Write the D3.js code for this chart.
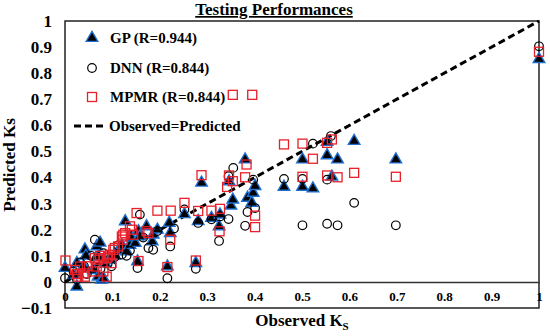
<!DOCTYPE html>
<html>
<head>
<meta charset="utf-8">
<script src="https://cdn.jsdelivr.net/npm/d3@7"></script>
<style>
  body { margin: 0; background: #fff; }
  text { font-family: "Liberation Serif", "Times New Roman", serif; font-weight: bold; }
</style>
</head>
<body>
<div class="chart"></div>
<script>
// [observed, predicted]
var gpData = [
  [0.000,0.053],[0.025,-0.018],[0.018,0.027],[0.025,0.072],[0.039,0.059],[0.042,0.124],
  [0.044,0.100],[0.060,0.045],[0.067,0.136],[0.070,0.097],[0.074,0.150],[0.070,0.020],
  [0.077,0.008],[0.081,0.014],[0.085,0.070],[0.095,0.085],[0.105,0.100],[0.112,0.120],
  [0.120,0.140],[0.127,0.232],[0.130,0.117],[0.137,0.142],[0.140,0.170],[0.148,0.149],
  [0.153,0.078],[0.155,0.194],[0.158,0.174],[0.172,0.213],[0.184,0.155],[0.186,0.181],
  [0.195,0.200],[0.216,0.059],[0.220,0.226],[0.222,0.187],[0.252,0.259],[0.276,0.072],
  [0.281,0.233],[0.288,0.380],[0.309,0.245],[0.325,0.213],[0.327,0.258],[0.346,0.385],
  [0.350,0.292],[0.354,0.315],[0.380,0.469],[0.385,0.322],[0.394,0.303],[0.397,0.341],
  [0.401,0.367],[0.462,0.364],[0.501,0.469],[0.501,0.364],[0.523,0.358],[0.553,0.485],
  [0.553,0.536],[0.563,0.403],[0.575,0.469],[0.610,0.540],[0.698,0.469],[1.000,0.854]
];

var dnnData = [
  [0.000,0.014],[0.018,0.040],[0.025,0.010],[0.032,0.075],[0.040,0.060],[0.046,0.030],
  [0.055,0.100],[0.063,0.162],[0.067,0.090],[0.075,0.050],[0.081,0.110],[0.090,0.070],
  [0.098,0.060],[0.105,0.095],[0.112,0.140],[0.120,0.105],[0.130,0.100],[0.137,0.120],
  [0.145,0.180],[0.153,0.053],[0.158,0.258],[0.165,0.170],[0.176,0.130],[0.186,0.123],
  [0.195,0.195],[0.216,0.014],[0.222,0.136],[0.230,0.205],[0.252,0.278],[0.276,0.050],
  [0.281,0.226],[0.309,0.240],[0.325,0.157],[0.327,0.251],[0.345,0.241],[0.345,0.405],
  [0.355,0.437],[0.380,0.215],[0.385,0.268],[0.397,0.392],[0.401,0.283],[0.462,0.395],
  [0.501,0.395],[0.501,0.217],[0.523,0.530],[0.553,0.392],[0.553,0.223],[0.561,0.559],
  [0.575,0.217],[0.610,0.303],[0.698,0.217],[1.000,0.903]
];

var mpmrData = [
  [0.001,0.082],[0.021,0.046],[0.025,0.030],[0.028,0.020],[0.032,0.059],[0.039,0.033],
  [0.042,0.020],[0.046,0.060],[0.060,0.040],[0.063,0.091],[0.067,0.059],[0.070,0.085],
  [0.074,0.100],[0.081,0.040],[0.081,0.091],[0.088,0.020],[0.088,0.091],[0.091,0.097],
  [0.095,0.104],[0.098,0.072],[0.102,0.123],[0.105,0.130],[0.112,0.136],[0.120,0.174],
  [0.122,0.162],[0.123,0.181],[0.127,0.187],[0.137,0.213],[0.141,0.200],[0.144,0.181],
  [0.151,0.264],[0.155,0.080],[0.172,0.194],[0.176,0.187],[0.195,0.273],[0.222,0.162],
  [0.223,0.273],[0.216,0.057],[0.252,0.303],[0.276,0.082],[0.281,0.272],[0.288,0.409],
  [0.309,0.273],[0.326,0.194],[0.327,0.280],[0.342,0.364],[0.346,0.408],[0.354,0.386],
  [0.354,0.717],[0.383,0.450],[0.380,0.401],[0.395,0.717],[0.401,0.254],[0.401,0.210],
  [0.462,0.527],[0.501,0.530],[0.501,0.403],[0.523,0.472],[0.553,0.533],[0.563,0.546],
  [0.553,0.408],[0.575,0.401],[0.610,0.418],[0.698,0.403],[1.000,0.882]
];

var xTicks = [0, 0.1, 0.2, 0.3, 0.4, 0.5, 0.6, 0.7, 0.8, 0.9, 1];
var yTicks = [-0.1, 0, 0.1, 0.2, 0.3, 0.4, 0.5, 0.6, 0.7, 0.8, 0.9, 1];
var legendLabels = ["GP (R=0.944)", "DNN (R=0.844)", "MPMR (R=0.844)", "Observed=Predicted"];

var w = 550;
var h = 336;
var padLeft = 65, padRight = 539, padTop = 21, padBottom = 308;

var xScale = d3.scaleLinear().domain([0, 1]).range([padLeft, padRight]);
var yScale = d3.scaleLinear().domain([-0.1, 1]).range([padBottom, padTop]);

var svg = d3.select(".chart")
    .append("svg")
    .attr("width", w)
    .attr("height", h);

// plot border
svg.append("rect")
    .attr("x", padLeft)
    .attr("y", padTop)
    .attr("width", padRight - padLeft)
    .attr("height", padBottom - padTop)
    .attr("fill", "none")
    .attr("stroke", "#222")
    .attr("stroke-width", 1.5);

// zero line (x axis)
var xaxis = d3.axisBottom(xScale)
    .tickValues(xTicks)
    .tickSize(0)
    .tickPadding(10)
    .tickFormat(d3.format("~g"));

var gx = svg.append("g")
    .attr("class", "x axis")
    .attr("transform", "translate(0," + yScale(0) + ")")
    .call(xaxis);
gx.select(".domain").attr("stroke", "#333").attr("stroke-width", 1.5);
gx.selectAll("text")
    .attr("font-size", "13px")
    .attr("fill", "#000");

var yaxis = d3.axisLeft(yScale)
    .tickValues(yTicks)
    .tickSize(0)
    .tickPadding(13)
    .tickFormat(d3.format("~g"));

var gy = svg.append("g")
    .attr("class", "y axis")
    .attr("transform", "translate(" + padLeft + ",0)")
    .call(yaxis);
gy.select(".domain").remove();
gy.selectAll("text")
    .attr("font-size", "17px")
    .attr("fill", "#000");

// diagonal line
svg.append("line")
    .attr("x1", xScale(0))
    .attr("y1", yScale(0))
    .attr("x2", xScale(1))
    .attr("y2", yScale(1))
    .attr("stroke", "#000")
    .attr("stroke-width", 3)
    .attr("stroke-dasharray", "7,4");

var tri = d3.symbol().type(d3.symbolTriangle).size(58);

// GP
svg.selectAll("path.gp")
    .data(gpData)
    .enter()
    .append("path")
    .attr("class", "gp")
    .attr("d", tri)
    .attr("transform", function(d) {
        return "translate(" + xScale(d[0]) + "," + yScale(d[1]) + ")";
    })
    .attr("fill", "#000")
    .attr("stroke", "#1f6fd0")
    .attr("stroke-width", 1.4);

// DNN
svg.selectAll("circle.dnn")
    .data(dnnData)
    .enter()
    .append("circle")
    .attr("class", "dnn")
    .attr("cx", function(d) { return xScale(d[0]); })
    .attr("cy", function(d) { return yScale(d[1]); })
    .attr("r", 4.3)
    .attr("fill", "none")
    .attr("stroke", "#000")
    .attr("stroke-width", 1.2);

// MPMR
svg.selectAll("rect.mpmr")
    .data(mpmrData)
    .enter()
    .append("rect")
    .attr("class", "mpmr")
    .attr("x", function(d) { return xScale(d[0]) - 4.5; })
    .attr("y", function(d) { return yScale(d[1]) - 4.5; })
    .attr("width", 9)
    .attr("height", 9)
    .attr("fill", "none")
    .attr("stroke", "#e8202a")
    .attr("stroke-width", 1.3);

// legend
var legend = svg.append("g").attr("class", "legend");
var ly = [38, 68, 97, 126];

legend.append("path")
    .attr("d", tri)
    .attr("transform", "translate(92," + ly[0] + ")")
    .attr("fill", "#000")
    .attr("stroke", "#1f6fd0")
    .attr("stroke-width", 1.4);
legend.append("circle")
    .attr("cx", 92).attr("cy", ly[1]).attr("r", 4.3)
    .attr("fill", "none").attr("stroke", "#000").attr("stroke-width", 1.2);
legend.append("rect")
    .attr("x", 87.5).attr("y", ly[2] - 4.5).attr("width", 9).attr("height", 9)
    .attr("fill", "none").attr("stroke", "#e8202a").attr("stroke-width", 1.3);
legend.append("line")
    .attr("x1", 74).attr("x2", 107).attr("y1", ly[3]).attr("y2", ly[3])
    .attr("stroke", "#000").attr("stroke-width", 3).attr("stroke-dasharray", "7,4");

legend.selectAll("text")
    .data(legendLabels)
    .enter()
    .append("text")
    .attr("x", function(d, i) { return i == 3 ? 109 : 110; })
    .attr("y", function(d, i) { return ly[i] + 5; })
    .attr("font-size", "15px")
    .text(function(d) { return d; });

// title
svg.append("text")
    .attr("x", 274)
    .attr("y", 15)
    .attr("text-anchor", "middle")
    .attr("font-size", "17px")
    .attr("text-decoration", "underline")
    .text("Testing Performances");

// axis titles
svg.append("text")
    .attr("transform", "translate(15,165) rotate(-90)")
    .attr("text-anchor", "middle")
    .attr("font-size", "17px")
    .text("Predicted Ks");

var xt = svg.append("text")
    .attr("x", 302)
    .attr("y", 326)
    .attr("text-anchor", "middle")
    .attr("font-size", "17px");
xt.append("tspan").text("Observed K");
xt.append("tspan").attr("font-size", "11px").attr("dy", 4).text("S");
</script>
</body>
</html>
